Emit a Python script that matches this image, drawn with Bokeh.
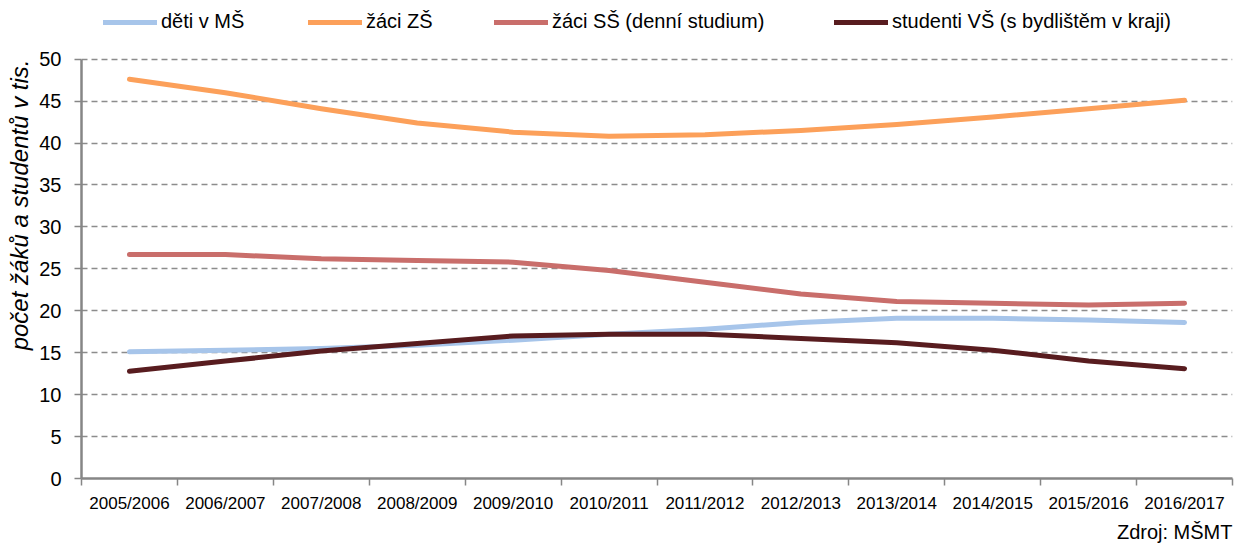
from bokeh.plotting import figure
from bokeh.models import (Range1d, FixedTicker, Legend, LegendItem, Title, ColumnDataSource)
from bokeh.embed import file_html
from bokeh.resources import INLINE

categories = ["2005/2006", "2006/2007", "2007/2008", "2008/2009", "2009/2010", "2010/2011",
              "2011/2012", "2012/2013", "2013/2014", "2014/2015", "2015/2016", "2016/2017"]
deti_ms = [15.1, 15.3, 15.5, 15.9, 16.5, 17.2, 17.8, 18.6, 19.1, 19.1, 18.9, 18.6]
zaci_zs = [47.6, 46.0, 44.1, 42.4, 41.3, 40.8, 41.0, 41.5, 42.2, 43.1, 44.1, 45.1]
zaci_ss = [26.7, 26.7, 26.2, 26.0, 25.8, 24.8, 23.4, 22.0, 21.1, 20.9, 20.7, 20.9]
studenti_vs = [12.8, 14.0, 15.2, 16.1, 17.0, 17.2, 17.2, 16.7, 16.2, 15.3, 14.0, 13.1]
y_ticks = [0, 5, 10, 15, 20, 25, 30, 35, 40, 45, 50]

series = [
    ("děti v MŠ", deti_ms, "#A7C5EA"),
    ("žáci ZŠ", zaci_zs, "#FCA05A"),
    ("žáci SŠ (denní studium)", zaci_ss, "#C96E6B"),
    ("studenti VŠ (s bydlištěm v kraji)", studenti_vs, "#581C1F"),
]

FONT = "Liberation Sans"
n = len(categories)
xs = [i + 0.5 for i in range(n)]

# y range extends above 50 to leave room for the legend inside the frame
p = figure(width=1235, height=545, output_backend="svg", toolbar_location=None,
           x_range=Range1d(0, n), y_range=Range1d(0, 57),
           min_border_left=81, min_border_right=3, min_border_top=0, min_border_bottom=65)
p.outline_line_color = None
p.background_fill_color = "white"
p.border_fill_color = "white"

# axes
xa = p.xaxis[0]
xa.ticker = FixedTicker(ticks=xs, minor_ticks=list(range(n + 1)))
xa.major_label_overrides = {x: c for x, c in zip(xs, categories)}
xa.major_tick_line_color = None
xa.minor_tick_line_color = "#868686"
xa.minor_tick_line_width = 1.5
xa.minor_tick_out = 7
xa.minor_tick_in = 0
xa.axis_line_color = "#868686"
xa.axis_line_width = 2.5
xa.major_label_text_font = FONT
xa.major_label_text_font_size = "17px"
xa.major_label_text_color = "black"
xa.major_label_standoff = 8

ya = p.yaxis[0]
ya.ticker = FixedTicker(ticks=y_ticks, minor_ticks=[])
ya.bounds = (0, 50)
ya.major_tick_line_color = "#868686"
ya.major_tick_line_width = 1.5
ya.major_tick_out = 7
ya.major_tick_in = 0
ya.minor_tick_line_color = None
ya.axis_line_color = "#868686"
ya.axis_line_width = 2.5
ya.major_label_text_font = FONT
ya.major_label_text_font_size = "20px"
ya.major_label_text_color = "black"
ya.major_label_standoff = 13

p.xgrid.grid_line_color = None
p.ygrid.grid_line_color = "#8C8C8C"
p.ygrid.grid_line_width = 1.5
p.ygrid.grid_line_dash = "6 4"

renderers = []
for name, vals, color in series:
    src = ColumnDataSource(dict(x=xs, y=vals))
    r = p.line("x", "y", source=src, line_color=color, line_width=5,
               line_cap="round", line_join="round")
    renderers.append((name, r))

legend_x = [22, 227, 413, 753]
for (name, r), lx in zip(renderers, legend_x):
    lg = Legend(items=[LegendItem(label=name, renderers=[r])], location=(lx, 445),
                orientation="horizontal", padding=0, margin=0, spacing=0,
                border_line_color=None, background_fill_alpha=0,
                glyph_width=54, glyph_height=20, label_height=20, label_standoff=4,
                label_text_font=FONT, label_text_font_size="20px", label_text_color="black")
    p.add_layout(lg)

p.add_layout(Title(text="počet žáků a studentů v tis.", align="right", offset=59, standoff=7,
                   text_font=FONT, text_font_size="24px", text_font_style="italic",
                   text_color="black"), "left")
p.add_layout(Title(text="Zdroj: MŠMT", align="right", offset=0, standoff=6,
                   text_font=FONT, text_font_size="20px", text_font_style="normal",
                   text_color="black"), "below")

open("out.html", "w").write(file_html(p, INLINE))
